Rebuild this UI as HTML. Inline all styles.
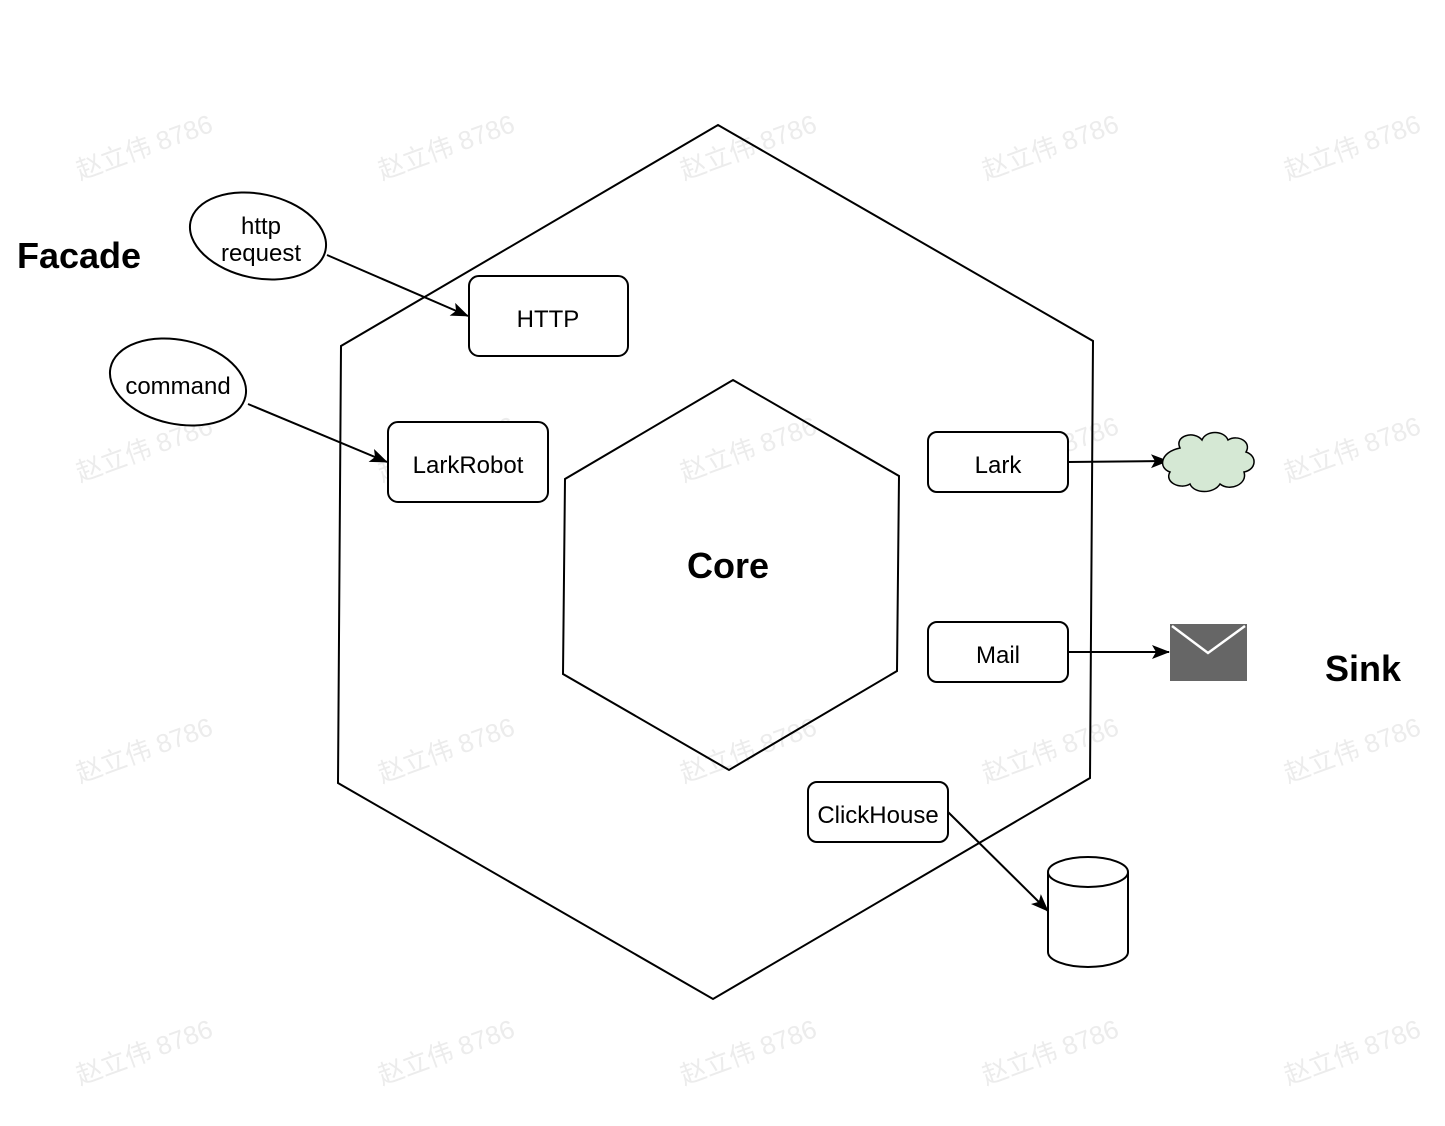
<!DOCTYPE html>
<html><head><meta charset="utf-8"><style>
html,body{margin:0;padding:0;background:#fff;}
svg{display:block;}
text{font-family:"Liberation Sans","Noto Sans CJK SC",sans-serif;}
</style></head><body>
<svg width="1445" height="1126" viewBox="0 0 1445 1126" xmlns="http://www.w3.org/2000/svg">
<defs><marker id="a" markerWidth="18" markerHeight="16" refX="17" refY="8" orient="auto" markerUnits="userSpaceOnUse"><path d="M0,1 L18,8 L0,15 L4,8 Z" fill="#000"/></marker></defs>
<g fill="#ececec" font-size="26">
<text transform="translate(80,180) rotate(-20)">赵立伟 8786</text>
<text transform="translate(382,180) rotate(-20)">赵立伟 8786</text>
<text transform="translate(684,180) rotate(-20)">赵立伟 8786</text>
<text transform="translate(986,180) rotate(-20)">赵立伟 8786</text>
<text transform="translate(1288,180) rotate(-20)">赵立伟 8786</text>
<text transform="translate(80,482) rotate(-20)">赵立伟 8786</text>
<text transform="translate(382,482) rotate(-20)">赵立伟 8786</text>
<text transform="translate(684,482) rotate(-20)">赵立伟 8786</text>
<text transform="translate(986,482) rotate(-20)">赵立伟 8786</text>
<text transform="translate(1288,482) rotate(-20)">赵立伟 8786</text>
<text transform="translate(80,783) rotate(-20)">赵立伟 8786</text>
<text transform="translate(382,783) rotate(-20)">赵立伟 8786</text>
<text transform="translate(684,783) rotate(-20)">赵立伟 8786</text>
<text transform="translate(986,783) rotate(-20)">赵立伟 8786</text>
<text transform="translate(1288,783) rotate(-20)">赵立伟 8786</text>
<text transform="translate(80,1085) rotate(-20)">赵立伟 8786</text>
<text transform="translate(382,1085) rotate(-20)">赵立伟 8786</text>
<text transform="translate(684,1085) rotate(-20)">赵立伟 8786</text>
<text transform="translate(986,1085) rotate(-20)">赵立伟 8786</text>
<text transform="translate(1288,1085) rotate(-20)">赵立伟 8786</text>
</g>
<g fill="none" stroke="#000" stroke-width="2">
<polygon points="718,125 1093,341 1090,778 713,999 338,783 341,346"/>
<polygon points="733,380 899,476 897,671 729,770 563,674 565,479"/>
</g>
<g fill="#fff" stroke="#000" stroke-width="2">
<rect x="469" y="276" width="159" height="80" rx="10"/>
<rect x="388" y="422" width="160" height="80" rx="10"/>
<rect x="928" y="432" width="140" height="60" rx="9"/>
<rect x="928" y="622" width="140" height="60" rx="9"/>
<rect x="808" y="782" width="140" height="60" rx="9"/>
<ellipse cx="258" cy="236" rx="69" ry="42" transform="rotate(12 258 236)"/>
<ellipse cx="178" cy="382" rx="69" ry="42" transform="rotate(12 178 382)"/>
</g>
<g stroke="#000" stroke-width="2" fill="none">
<line x1="327" y1="255" x2="468" y2="316" marker-end="url(#a)"/>
<line x1="248" y1="404" x2="387" y2="462" marker-end="url(#a)"/>
<line x1="1068" y1="462" x2="1168" y2="461" marker-end="url(#a)"/>
<line x1="1068" y1="652" x2="1169" y2="652" marker-end="url(#a)"/>
<line x1="948" y1="812" x2="1048" y2="911" marker-end="url(#a)"/>
</g>
<path d="M1048,872 a40,15 0 0 1 80,0 v80 a40,15 0 0 1 -80,0 Z" fill="#fff" stroke="#000" stroke-width="2"/>
<path d="M1048,872 a40,15 0 0 0 80,0" fill="none" stroke="#000" stroke-width="2"/>
<path d="M1180,448 c-6,-12 14,-18 22,-8 c4,-10 22,-10 26,0 c10,-6 24,2 18,12 c12,4 10,18 -2,20 c4,12 -14,20 -24,12 c-6,10 -26,10 -30,0 c-10,6 -26,-2 -20,-12 c-12,-4 -10,-20 10,-24 Z" fill="#d5e8d4" stroke="#000" stroke-width="1.5"/>
<rect x="1170" y="624" width="77" height="57" fill="#666"/>
<polyline points="1172,626 1208,653 1245,626" fill="none" stroke="#fff" stroke-width="2.5"/>
<g font-size="24" text-anchor="middle" fill="#000">
<text x="548" y="327">HTTP</text>
<text x="468" y="473">LarkRobot</text>
<text x="998" y="473">Lark</text>
<text x="998" y="663">Mail</text>
<text x="878" y="823">ClickHouse</text>
<text x="261" y="234">http</text>
<text x="261" y="261">request</text>
<text x="178" y="394">command</text>
</g>
<g font-size="36" font-weight="bold" fill="#000">
<text x="17" y="268">Facade</text>
<text x="1325" y="681">Sink</text>
<text x="728" y="578" text-anchor="middle">Core</text>
</g>
</svg>
</body></html>
